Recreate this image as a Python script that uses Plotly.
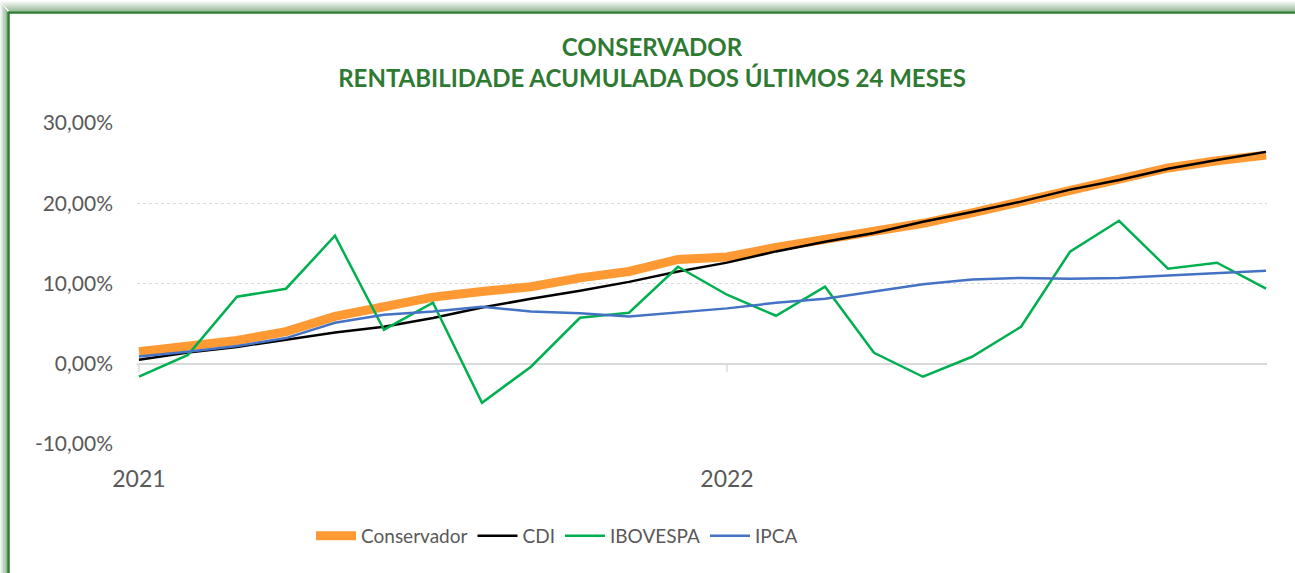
import plotly.graph_objects as go

months = ["jan/21", "fev/21", "mar/21", "abr/21", "mai/21", "jun/21", "jul/21", "ago/21",
          "set/21", "out/21", "nov/21", "dez/21", "jan/22", "fev/22", "mar/22", "abr/22",
          "mai/22", "jun/22", "jul/22", "ago/22", "set/22", "out/22", "nov/22", "dez/22"]

conservador = [1.5, 2.2, 2.9, 4.0, 5.9, 7.1, 8.3, 9.0, 9.6, 10.7, 11.5, 13.0,
               13.3, 14.5, 15.5, 16.3, 17.5, 18.8, 20.2, 21.8, 23.2, 24.4, 25.3, 26.0]
cdi = [0.5, 1.4, 2.1, 3.0, 3.9, 4.6, 5.7, 7.0, 8.1, 9.1, 10.2, 11.5,
       12.6, 14.0, 15.2, 16.3, 17.7, 18.9, 20.2, 21.7, 22.9, 24.3, 25.4, 26.4]
ibovespa = [-1.6, 1.1, 8.35, 9.35, 15.95, 4.24, 7.6, -4.86, -0.37, 5.73, 6.36, 12.09,
            8.6, 5.98, 9.6, 1.37, -1.62, 0.87, 4.61, 13.96, 17.82, 11.84, 12.59, 9.35]
ipca = [0.9, 1.5, 2.2, 3.2, 5.1, 6.1, 6.5, 7.1, 6.5, 6.3, 5.9, 6.4,
        6.9, 7.6, 8.1, 9.0, 9.9, 10.5, 10.7, 10.6, 10.7, 11.0, 11.3, 11.6]

tick_months = ["jan/21", "jan/22"]
tick_labels = ["2021", "2022"]
y_ticks = [-10, 0, 10, 20, 30]
y_tick_labels = ["-10,00%", "0,00%", "10,00%", "20,00%", "30,00%"]

W, H = 1295, 573
L, R, T, B = 137, 28, 123, 129
PW, PH = W - L - R, H - T - B


def px(x):
    return (x - L) / PW


def py(y):
    return (H - B - y) / PH


FONT = "Lato"
GRAY = "#595959"
GREEN_T = "#2F7A32"

fig = go.Figure()
fig.add_trace(go.Scatter(x=months, y=conservador, name="Conservador", mode="lines",
                         line=dict(color="#FF9933", width=9)))
fig.add_trace(go.Scatter(x=months, y=cdi, name="CDI", mode="lines",
                         line=dict(color="#000000", width=2.5)))
fig.add_trace(go.Scatter(x=months, y=ibovespa, name="IBOVESPA", mode="lines",
                         line=dict(color="#00B050", width=2.5)))
fig.add_trace(go.Scatter(x=months, y=ipca, name="IPCA", mode="lines",
                         line=dict(color="#4472C4", width=2.5)))

shapes = []
# tick marks on the zero line
for tm in tick_months:
    shapes.append(dict(type="line", xref="x", yref="y", x0=tm, x1=tm, y0=0, y1=-1,
                       line=dict(color="#D9D9D9", width=1.5)))
# shadow + green frame
for i in range(10):
    a = 0.04 + 0.05 * i
    shapes.append(dict(type="line", xref="paper", yref="paper",
                       x0=px(i), x1=px(W + 5), y0=py(1.5 + i), y1=py(1.5 + i),
                       line=dict(color=f"rgba(60,120,60,{a:.2f})", width=1.2), layer="below"))
    shapes.append(dict(type="line", xref="paper", yref="paper",
                       x0=px(0.5 + i * 0.75), x1=px(0.5 + i * 0.75), y0=py(i + 2), y1=py(H + 5),
                       line=dict(color=f"rgba(60,120,60,{a:.2f})", width=1.0), layer="below"))
shapes.append(dict(type="line", xref="paper", yref="paper", x0=px(8), x1=px(W + 5),
                   y0=py(12.5), y1=py(12.5), line=dict(color="#2E7D32", width=2.5)))
shapes.append(dict(type="line", xref="paper", yref="paper", x0=px(8.5), x1=px(8.5),
                   y0=py(12), y1=py(H + 5), line=dict(color="#2E7D32", width=2.5)))

fig.update_layout(
    width=W, height=H,
    margin=dict(l=L, r=R, t=T, b=B, autoexpand=False),
    paper_bgcolor="white", plot_bgcolor="white",
    title=dict(text="<b>CONSERVADOR<br>RENTABILIDADE ACUMULADA DOS ÚLTIMOS 24 MESES</b>",
               x=652 / W, xref="container", xanchor="center", y=1 - 56 / H, yref="container",
               yanchor="middle",
               font=dict(family=FONT, size=24, color=GREEN_T)),
    xaxis=dict(type="category", range=[-0.04, 23.02], tickmode="array",
               tickvals=tick_months, ticktext=tick_labels, showgrid=False,
               showline=False, zeroline=False, ticks="", ticklabelstandoff=19,
               tickfont=dict(family=FONT, size=23, color=GRAY)),
    yaxis=dict(range=[-10, 30], tickmode="array", tickvals=y_ticks, ticktext=y_tick_labels,
               showgrid=True, gridcolor="#D9D9D9", griddash="dot", gridwidth=1,
               zeroline=True, zerolinecolor="#D9D9D9", zerolinewidth=1.5,
               showline=False, ticks="", ticklabelstandoff=23,
               tickfont=dict(family=FONT, size=21, color=GRAY)),
    legend=dict(orientation="h", x=px(557), xanchor="center", y=py(536), yanchor="middle",
                font=dict(family=FONT, size=19, color=GRAY), itemwidth=40,
                tracegroupgap=0),
    shapes=shapes,
    showlegend=True,
)

fig.write_html("out.html", config={"displayModeBar": False},
               post_script="document.body.style.margin='0';document.body.style.overflow='hidden';")
